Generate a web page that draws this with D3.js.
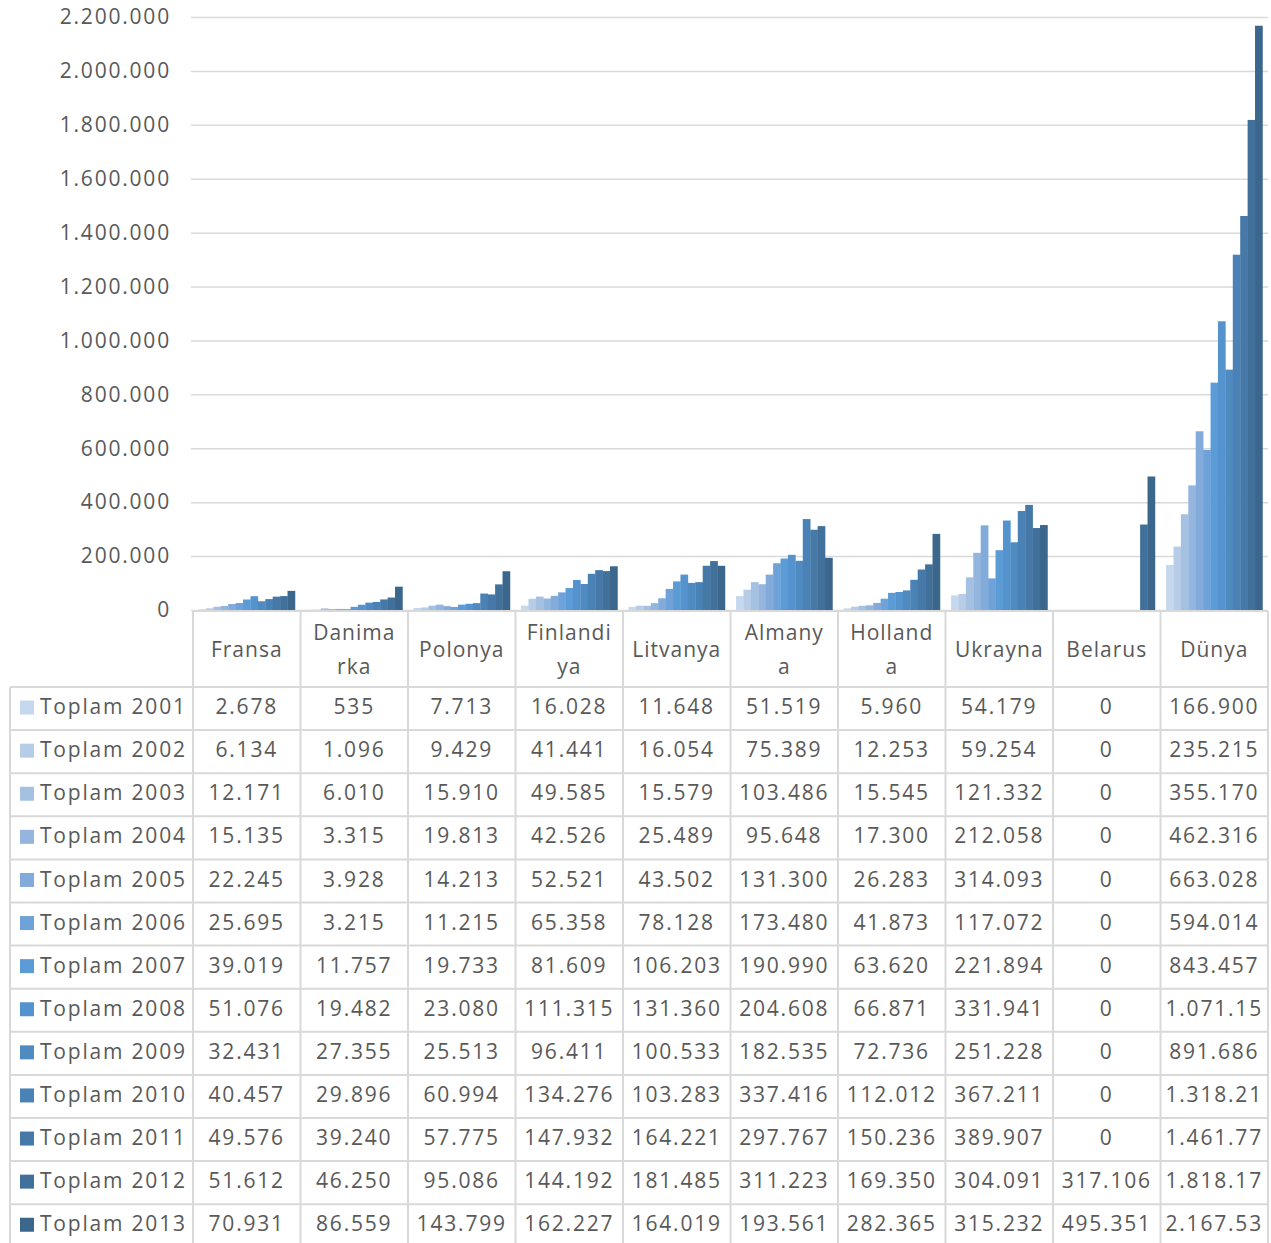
<!DOCTYPE html>
<html>
<head>
<meta charset="utf-8">
<script src="https://cdn.jsdelivr.net/npm/d3@7"></script>
<style>
body { margin: 0; background: #fff; }
svg text { font-family: "Open Sans", "Noto Sans", sans-serif; fill: #595959; letter-spacing: 1.8px; }
</style>
</head>
<body>
<svg></svg>
<script>
const categories = ["Fransa", "Danimarka", "Polonya", "Finlandiya", "Litvanya", "Almanya", "Hollanda", "Ukrayna", "Belarus", "Dünya"];
// header cells wrap like in the sheet
const headerLines = [["Fransa"], ["Danima", "rka"], ["Polonya"], ["Finlandi", "ya"], ["Litvanya"], ["Almany", "a"], ["Holland", "a"], ["Ukrayna"], ["Belarus"], ["Dünya"]];
const years = ["Toplam 2001", "Toplam 2002", "Toplam 2003", "Toplam 2004", "Toplam 2005", "Toplam 2006", "Toplam 2007", "Toplam 2008", "Toplam 2009", "Toplam 2010", "Toplam 2011", "Toplam 2012", "Toplam 2013"];

const v2001 = [2678, 535, 7713, 16028, 11648, 51519, 5960, 54179, 0, 166900];
const v2002 = [6134, 1096, 9429, 41441, 16054, 75389, 12253, 59254, 0, 235215];
const v2003 = [12171, 6010, 15910, 49585, 15579, 103486, 15545, 121332, 0, 355170];
const v2004 = [15135, 3315, 19813, 42526, 25489, 95648, 17300, 212058, 0, 462316];
const v2005 = [22245, 3928, 14213, 52521, 43502, 131300, 26283, 314093, 0, 663028];
const v2006 = [25695, 3215, 11215, 65358, 78128, 173480, 41873, 117072, 0, 594014];
const v2007 = [39019, 11757, 19733, 81609, 106203, 190990, 63620, 221894, 0, 843457];
const v2008 = [51076, 19482, 23080, 111315, 131360, 204608, 66871, 331941, 0, 1071150];
const v2009 = [32431, 27355, 25513, 96411, 100533, 182535, 72736, 251228, 0, 891686];
const v2010 = [40457, 29896, 60994, 134276, 103283, 337416, 112012, 367211, 0, 1318210];
const v2011 = [49576, 39240, 57775, 147932, 164221, 297767, 150236, 389907, 0, 1461770];
const v2012 = [51612, 46250, 95086, 144192, 181485, 311223, 169350, 304091, 317106, 1818170];
const v2013 = [70931, 86559, 143799, 162227, 164019, 193561, 282365, 315232, 495351, 2167530];
const seriesValues = [v2001, v2002, v2003, v2004, v2005, v2006, v2007, v2008, v2009, v2010, v2011, v2012, v2013];

const yTicks = [0, 200000, 400000, 600000, 800000, 1000000, 1200000, 1400000, 1600000, 1800000, 2000000, 2200000];

const colors = ["#c6d8ed", "#b6cce7", "#a5c1e2", "#94b6de", "#82abdb", "#6ea2d9", "#5b9bd6", "#5493cd", "#4f8ac1", "#4a82b5", "#4679a8", "#41709b", "#3b678d"];

const W = 1271, H = 1243;
const PLOT = {left: 193, right: 1268, top: 17, bottom: 610};
const TABLE = {left: 10, headerTop: 611, headerBottom: 687, rowH: 43.1};
const GRID = "#d9d9d9";

const svg = d3.select("svg").attr("width", W).attr("height", H);

const fmt = d3.formatLocale({decimal: ",", thousands: ".", grouping: [3]}).format(",d");

const x = d3.scaleBand().domain(categories).range([PLOT.left, PLOT.right]).paddingInner(0.1034).paddingOuter(0.0517);
const colX = d3.scaleBand().domain(categories).range([PLOT.left, PLOT.right]);
const xYear = d3.scaleBand().domain(years).range([0, x.bandwidth()]);
const y = d3.scaleLinear().domain([0, 2200000]).range([PLOT.bottom, PLOT.top]);

// gridlines + y labels
const yAxis = svg.append("g")
  .attr("transform", `translate(${PLOT.left - 2},0)`)
  .call(d3.axisLeft(y).tickValues(yTicks).tickFormat(fmt).tickSize(-(PLOT.right - PLOT.left + 2)).tickPadding(20));
yAxis.select(".domain").remove();
yAxis.selectAll(".tick line").attr("stroke", GRID).attr("stroke-width", 1.5);
yAxis.selectAll(".tick text").style("font-size", "21px").attr("fill", "#595959");

// bars
const barData = [];
seriesValues.forEach((vals, i) => vals.forEach((v, j) => barData.push({year: years[i], cat: categories[j], value: v, idx: i})));
svg.append("g").selectAll("rect").data(barData).enter().append("rect")
  .attr("x", d => x(d.cat) + xYear(d.year))
  .attr("width", xYear.bandwidth() + 0.3)
  .attr("y", d => y(d.value))
  .attr("height", d => y(0) - y(d.value))
  .attr("fill", d => colors[d.idx]);

// table
const table = svg.append("g");
const tableBottom = TABLE.headerBottom + years.length * TABLE.rowH;
const line = (x1, y1, x2, y2) => table.append("line").attr("x1", x1).attr("y1", y1).attr("x2", x2).attr("y2", y2)
  .attr("stroke", GRID).attr("stroke-width", 2);

line(PLOT.left, TABLE.headerTop, PLOT.right, TABLE.headerTop);
for (let i = 0; i <= years.length; i++) {
  const yy = TABLE.headerBottom + i * TABLE.rowH;
  line(TABLE.left, yy, PLOT.right, yy);
}
line(TABLE.left, TABLE.headerBottom, TABLE.left, tableBottom);
categories.forEach(c => line(colX(c), TABLE.headerTop, colX(c), tableBottom));
line(PLOT.right, TABLE.headerTop, PLOT.right, tableBottom);

// header
categories.forEach((c, j) => {
  const lines = headerLines[j];
  const cy = (TABLE.headerTop + TABLE.headerBottom) / 2;
  lines.forEach((t, k) => {
    table.append("text")
      .attr("x", colX(c) + colX.bandwidth() / 2)
      .attr("y", cy + (k - (lines.length - 1) / 2) * 34)
      .attr("dy", "0.36em")
      .attr("text-anchor", "middle")
      .style("font-size", "21px")
      .style("letter-spacing", "1px")
      .text(t);
  });
});

// rows
years.forEach((yr, i) => {
  const cy = TABLE.headerBottom + i * TABLE.rowH + TABLE.rowH / 2 - 2;
  table.append("rect").attr("x", 20).attr("y", cy - 6).attr("width", 14).attr("height", 14).attr("fill", colors[i]);
  table.append("text").attr("x", 40).attr("y", cy).attr("dy", "0.36em").style("font-size", "21px").text(yr);
  categories.forEach((c, j) => {
    const t = table.append("text")
      .attr("x", colX(c) + colX.bandwidth() / 2)
      .attr("y", cy).attr("dy", "0.36em")
      .attr("text-anchor", "middle")
      .style("font-size", "21px")
      .text(fmt(seriesValues[i][j]));
    // cut the text when it does not fit, as the sheet does
    let s = t.text();
    while (t.node().getComputedTextLength() > colX.bandwidth() - 4 && s.length > 1) {
      s = s.slice(0, -1);
      t.text(s);
    }
  });
});
</script>
</body>
</html>
